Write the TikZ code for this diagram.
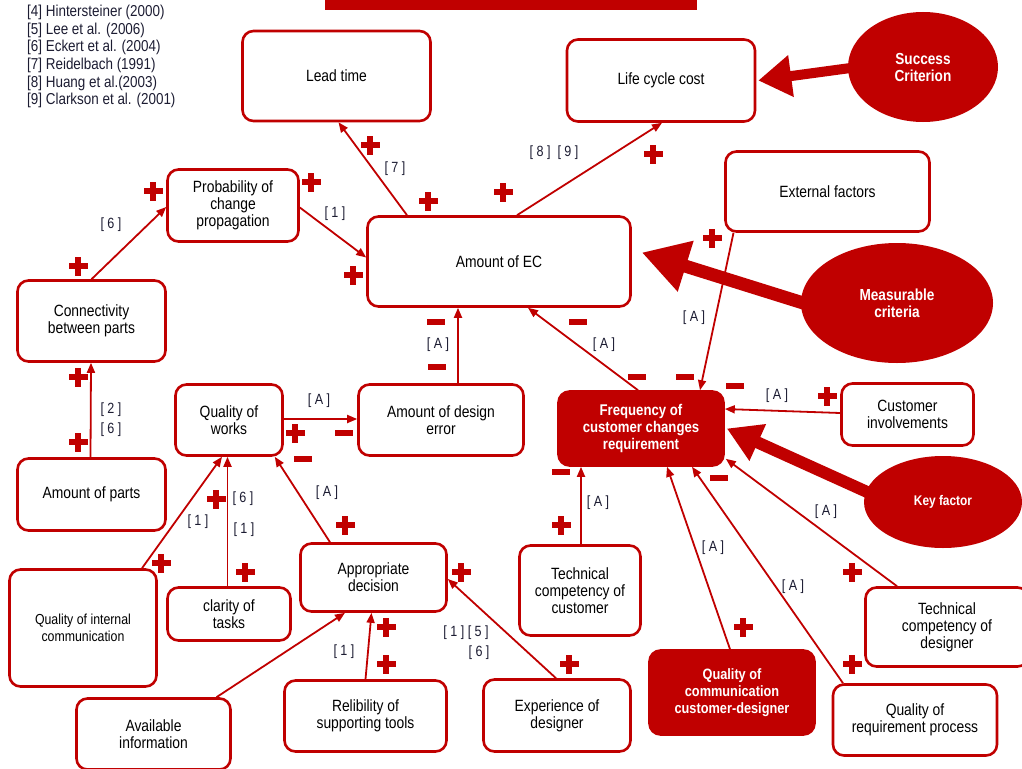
\documentclass[tikz,border=0pt]{standalone}
\usepackage{fontspec}
\setmainfont{Liberation Sans}[FakeStretch=0.85]
\usetikzlibrary{arrows.meta,shapes.geometric}
\definecolor{dred}{HTML}{C00000}
\definecolor{lab}{HTML}{1C1C32}
\pgfdeclarelayer{bg}
\pgfsetlayers{bg,main}
\begin{document}
\begin{tikzpicture}[x=1pt,y=-1pt,
  box/.style={draw=dred,line width=2.6pt,rounded corners=11pt,fill=white,align=center,inner sep=0pt,text=black,font=\fontsize{16.3}{17}\selectfont},
  fbox/.style={box,fill=dred,text=white,font=\fontsize{15.5}{17}\selectfont\bfseries},
  edge/.style={draw=dred,line width=1.8pt,-{Triangle[length=10pt,width=8pt]}},
  lbl/.style={text=lab,inner sep=0pt,font=\fontsize{14.8}{17}\selectfont},
  legend/.style={text=lab,inner sep=0pt,anchor=base west,font=\fontsize{15.8}{17}\selectfont},
  crit/.style={ellipse,fill=dred,draw=none,text=white,align=center,inner sep=0pt,font=\fontsize{16}{17}\selectfont\bfseries},
  plusm/.pic={\fill[dred] (-9.5,-3) rectangle (9.5,3); \fill[dred] (-3,-9.5) rectangle (3,9.5);},
  minusm/.pic={\fill[dred] (-9,-3.3) rectangle (9,3.3);}
]
\useasboundingbox (0,0) rectangle (1022,768);
\clip (0,0) rectangle (1022,768);

% top bar
\fill[dred] (325,0) rectangle (697,10);

% legend
\node[legend] (l4) at (27,17) {[4] Hintersteiner (2000)};
\node[legend] (l5) at (27,34.5) {[5] Lee et al. (2006)};
\node[legend] (l6) at (27,52) {[6] Eckert et al. (2004)};
\node[legend] (l7) at (27,69.5) {[7] Reidelbach (1991)};
\node[legend] (l8) at (27,87) {[8] Huang et al.(2003)};
\node[legend] (l9) at (27,104.5) {[9] Clarkson et al. (2001)};

% boxes
\node[box,minimum width=188pt,minimum height=90pt] (lead) at (336.5,76) {Lead time};
\node[box,minimum width=188pt,minimum height=82pt] (lcc) at (661,80.5) {Life cycle cost};
\node[box,minimum width=131pt,minimum height=72pt] (prob) at (233,205.5) {Probability of\\change\\propagation};
\node[box,minimum width=148pt,minimum height=81pt] (conn) at (91.5,321) {Connectivity\\between parts};
\node[box,minimum width=263pt,minimum height=90pt] (ec) at (499,261.5) {Amount of EC};
\node[box,minimum width=204pt,minimum height=80pt] (ext) at (827.5,191.5) {External factors};
\node[box,minimum width=107pt,minimum height=71pt] (qw) at (229,420) {Quality of\\works};
\node[box,minimum width=165pt,minimum height=71pt] (ade) at (441,420) {Amount of design\\error};
\node[fbox,minimum width=165pt,minimum height=74pt] (freq) at (641,428.5) {Frequency of\\customer changes\\requirement};
\node[box,minimum width=132pt,minimum height=62pt] (cust) at (907.5,414.5) {Customer\\involvements};
\node[box,minimum width=148pt,minimum height=72pt] (parts) at (91.5,494.5) {Amount of parts};
\node[box,minimum width=147pt,minimum height=117pt,font=\fontsize{14.5}{17}\selectfont] (qic) at (83,628) {Quality of internal\\communication};
\node[box,minimum width=123pt,minimum height=53pt] (clar) at (229,614) {clarity of\\tasks};
\node[box,minimum width=146pt,minimum height=68pt] (appr) at (373.5,577.5) {Appropriate\\decision};
\node[box,minimum width=121pt,minimum height=90pt] (tcc) at (580,590.5) {Technical\\competency of\\customer};
\node[box,minimum width=154pt,minimum height=71pt] (avail) at (153.5,734) {Available\\information};
\node[box,minimum width=162pt,minimum height=71pt] (rel) at (365.5,716) {Relibility of\\supporting tools};
\node[box,minimum width=147pt,minimum height=72pt] (exp) at (557,715.5) {Experience of\\designer};
\node[fbox,minimum width=165pt,minimum height=84pt,font=\fontsize{15}{17}\selectfont\bfseries] (qcom) at (732,692.5) {Quality of\\communication\\customer-designer};
\node[box,minimum width=163pt,minimum height=79pt] (tcd) at (947,627) {Technical\\competency of\\designer};
\node[box,minimum width=164pt,minimum height=71pt] (qrp) at (915,720) {Quality of\\requirement process};

% criteria ellipses
\node[crit,minimum width=150pt,minimum height=110pt] (succ) at (923,67) {Success\\Criterion};
\node[crit,minimum width=192pt,minimum height=120pt] (meas) at (897,303) {Measurable\\criteria};
\node[crit,minimum width=158pt,minimum height=92pt,font=\fontsize{14}{17}\selectfont\bfseries] (key) at (943,502) {Key factor};

% thick arrows
\begin{pgfonlayer}{bg}
\draw[dred,line width=10pt,-{Triangle[length=33pt,width=40pt]}] ([xshift=10pt]succ.west) -- ([xshift=2pt]lcc.east);
\draw[dred,line width=13pt,-{Triangle[length=46pt,width=50pt]}] ([xshift=12pt,yshift=-3pt]meas.west) -- ([xshift=10pt,yshift=9pt]ec.east);
\draw[dred,line width=12pt,-{Triangle[length=34pt,width=38pt]}] ([xshift=10pt,yshift=7pt]key.west) -- ([xshift=2pt]freq.east);
\end{pgfonlayer}

% connectors
\draw[edge] (conn.north) -- ([yshift=-1.5pt]prob.west);
\draw[edge] ([yshift=-2pt]prob.east) -- ([yshift=4pt]ec.west);
\draw[edge] ([xshift=-92pt]ec.north) -- ([xshift=2pt]lead.south);
\draw[edge] ([xshift=18pt]ec.north) -- ([xshift=1pt]lcc.south);
\draw[edge] ([xshift=-1pt]parts.north) -- ([xshift=-0.5pt]conn.south);
\draw[edge] ([yshift=1pt]qw.east) -- ([yshift=1pt]ade.west);
\draw[edge] ([xshift=17pt]ade.north) -- ([xshift=-41pt]ec.south);
\draw[edge] ([xshift=-3pt]freq.north) -- ([xshift=29pt]ec.south);
\draw[edge] ([xshift=-94pt]ext.south) -- ([xshift=59pt]freq.north);
\draw[edge] ([yshift=1.5pt]cust.west) -- ([yshift=19.5pt]freq.east);
\draw[edge] ([xshift=1pt]tcc.north) -- ([xshift=1pt]tcc.north |- freq.south);
\draw[edge] ([xshift=-2pt]qcom.north) -- ([xshift=26pt]freq.south);
\draw[edge] ([xshift=-72pt]qrp.north) -- ([xshift=51pt]freq.south);
\draw[edge] ([xshift=-50pt]tcd.north) -- ([xshift=1pt,yshift=8pt]freq.south east);
\draw[edge] ([xshift=59pt]qic.north) -- ([xshift=-7pt]qw.south);
\draw[edge] ([xshift=-1.5pt]clar.north) -- ([xshift=-1.5pt]qw.south);
\draw[edge] ([xshift=-43.5pt]appr.north) -- ([xshift=-9pt]qw.south east);
\draw[edge] ([xshift=63pt]avail.north) -- ([xshift=-28.5pt]appr.south);
\draw[edge] (rel.north) -- ([xshift=-2pt]appr.south);
\draw[edge] ([xshift=-1pt]exp.north) -- ([yshift=-1.5pt]appr.east);

% reference labels
\node[lbl] (r1) at (111,225) {[ 6 ]};
\node[lbl] (r2) at (335,214) {[ 1 ]};
\node[lbl] (r3) at (395,169) {[ 7 ]};
\node[lbl] (r4) at (554,153) {[ 8 ]\ \ [ 9 ]};
\node[lbl] (r5) at (111,410) {[ 2 ]};
\node[lbl] (r6) at (111,430) {[ 6 ]};
\node[lbl] (r7) at (319,401) {[ A ]};
\node[lbl] (r8) at (438,345) {[ A ]};
\node[lbl] (r9) at (604,345) {[ A ]};
\node[lbl] (r10) at (694,318) {[ A ]};
\node[lbl] (r11) at (777,396) {[ A ]};
\node[lbl] (r12) at (598,503) {[ A ]};
\node[lbl] (r13) at (713,548) {[ A ]};
\node[lbl] (r14) at (793,587) {[ A ]};
\node[lbl] (r15) at (826,512) {[ A ]};
\node[lbl] (r16) at (327,493) {[ A ]};
\node[lbl] (r17) at (198,522) {[ 1 ]};
\node[lbl] (r18) at (243,499) {[ 6 ]};
\node[lbl] (r19) at (244,530) {[ 1 ]};
\node[lbl] (r20) at (344,652) {[ 1 ]};
\node[lbl] (r21) at (466,633) {[ 1 ]\ [ 5 ]};
\node[lbl] (r22) at (479,653) {[ 6 ]};

% plus signs
\foreach \p in {(78,266),(153,191),(311,182),(353,275),(370,145),(428,201),(503,192),(653,154),(712,238),
  (78,377),(78,442),(295,433),(345,525),(216,499),(161,563),(245,572),(386,627),(386,664),(461,572),
  (569,664),(743,627),(852,572),(852,664),(827,396),(561,525)}
  \pic at \p {plusm};
% minus signs
\foreach \p in {(436,322),(437,367),(578,322),(637,377),(685,377),(735,386),(561,472),(719,478),(344,433),(303,459)}
  \pic at \p {minusm};
\end{tikzpicture}
\end{document}
